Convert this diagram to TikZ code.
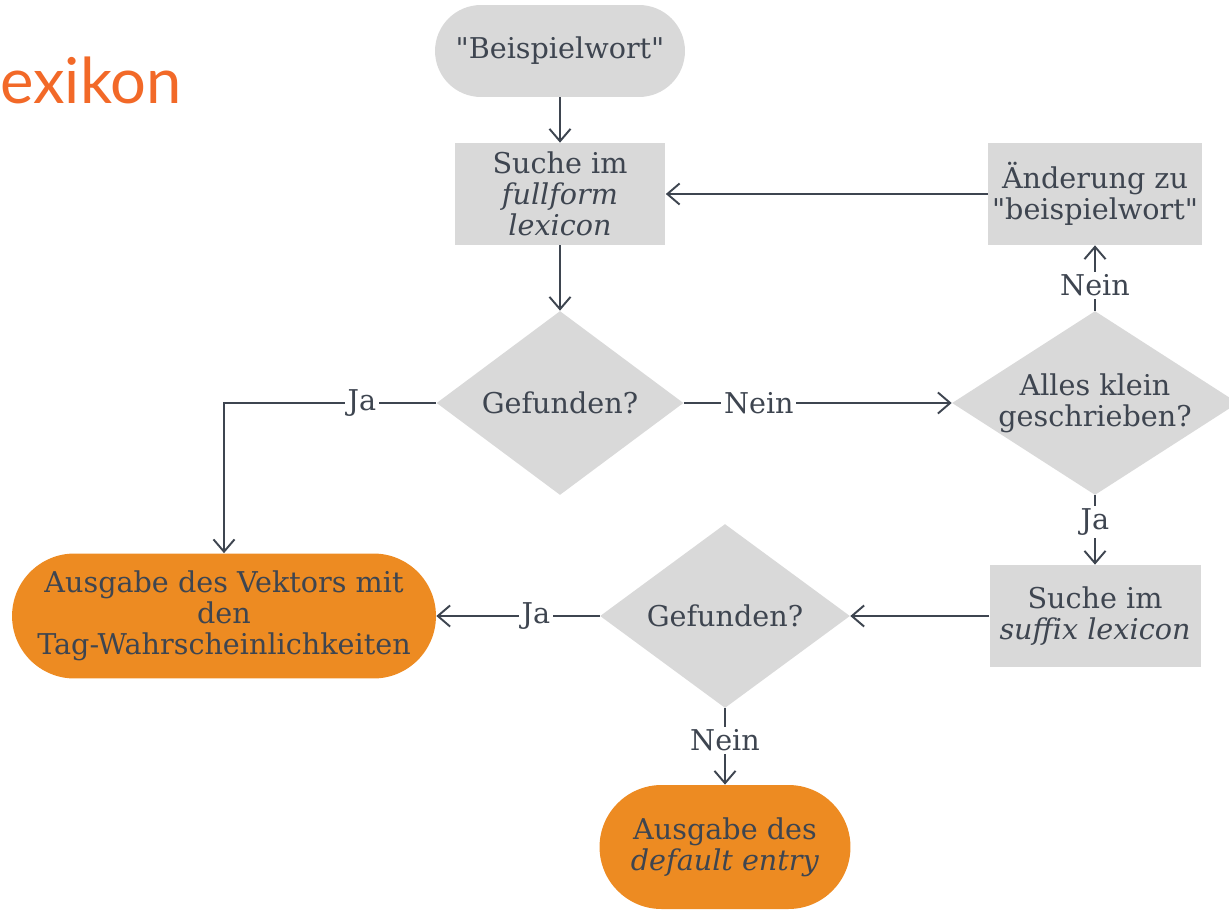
\documentclass[tikz,border=0pt]{standalone}
\usepackage{fontspec}
\newfontfamily\serif{DejaVu Serif}
\newfontfamily\titlefont{Lato}
\usetikzlibrary{shapes.geometric,arrows.meta}
\definecolor{boxgray}{RGB}{217,217,217}
\definecolor{txt}{RGB}{62,69,80}
\definecolor{orng}{RGB}{237,139,34}
\definecolor{ttl}{RGB}{242,105,40}
\begin{document}
\begin{tikzpicture}[x=0.02cm,y=-0.02cm,
  font=\serif\fontsize{16.3}{17.6}\selectfont, text=txt,
  box/.style={rectangle, fill=boxgray, align=center, minimum width=4.22cm, minimum height=2.04cm, inner sep=2pt},
  dia/.style={diamond, fill=boxgray, align=center, inner sep=0pt},
  pill/.style={rectangle, align=center, inner sep=2pt},
  conn/.style={draw=txt, line width=1.1pt, -{Straight Barb[length=7pt,width=12pt]}},
  lbl/.style={fill=white, inner sep=1.5pt, text=txt}]
\useasboundingbox (0,0) rectangle (1229,909);
\node[anchor=base west, inner sep=0, font=\titlefont\fontsize{36}{40}\selectfont, text=ttl] (title) at (0,103) {exikon};

\node[pill, fill=boxgray, minimum width=5cm, minimum height=1.84cm, rounded corners=0.92cm] (start) at (560,51) {"Beispielwort"};
\node[box] (full) at (560,194) {Suche im\\\textit{fullform}\\\textit{lexicon}};
\node[dia, aspect=1.34, minimum width=4.94cm, minimum height=3.68cm] (d1) at (560,403) {Gefunden?};
\node[dia, aspect=1.55, minimum width=5.72cm, minimum height=3.68cm] (d2) at (1095,403) {Alles klein\\geschrieben?};
\node[box] (aend) at (1095,194) {Änderung zu\\"beispielwort"};
\node[box] (suff) at (1095,616) {Suche im\\\textit{suffix lexicon}};
\node[dia, aspect=1.36, minimum width=5cm, minimum height=3.68cm] (d3) at (725,616) {Gefunden?};
\node[pill, fill=orng, minimum width=8.48cm, minimum height=2.5cm, rounded corners=1.25cm] (out1) at (224,616) {Ausgabe des Vektors mit\\den\\Tag-Wahrscheinlichkeiten};
\node[pill, fill=orng, minimum width=5.02cm, minimum height=2.48cm, rounded corners=1.24cm] (out2) at (725,847) {Ausgabe des\\\textit{default entry}};

\draw[conn] (start) -- (full);
\draw[conn] (full) -- (d1);
\draw[conn] (d1.west) -| node[lbl, pos=0.175] {Ja} (out1.north);
\draw[conn] (d1.east) -- node[lbl, pos=0.28] {Nein} (d2.west);
\draw[conn] (d2.north) -- node[lbl, pos=0.39] {Nein} (aend.south);
\draw[conn] (aend.west) -- (full.east);
\draw[conn] (d2.south) -- node[lbl, pos=0.39] {Ja} (suff.north);
\draw[conn] (suff.west) -- (d3.east);
\draw[conn] (d3.west) -- node[lbl, pos=0.39] {Ja} (out1.east);
\draw[conn] (d3.south) -- node[lbl, pos=0.42] {Nein} (out2.north);
\end{tikzpicture}
\end{document}
